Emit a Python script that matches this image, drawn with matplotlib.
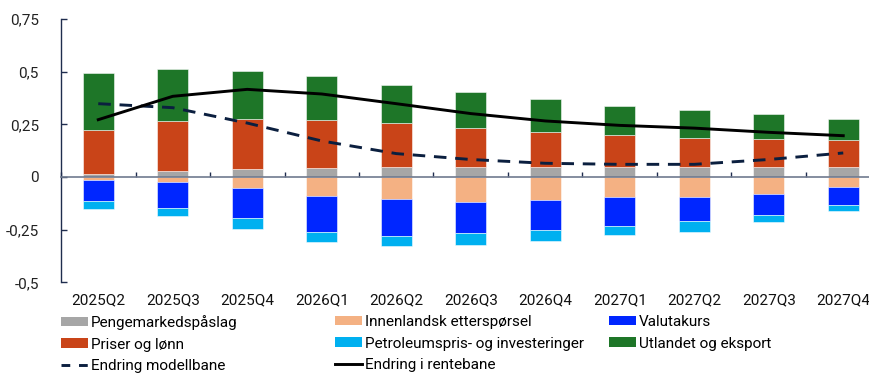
import matplotlib
matplotlib.use("Agg")
import matplotlib.pyplot as plt
import numpy as np
from matplotlib.patches import Patch
from matplotlib.lines import Line2D
from matplotlib.ticker import FuncFormatter

plt.rcParams['font.family'] = ['Roboto', 'DejaVu Sans']

quarters = ["2025Q2", "2025Q3", "2025Q4", "2026Q1", "2026Q2", "2026Q3",
            "2026Q4", "2027Q1", "2027Q2", "2027Q3", "2027Q4"]

# Contributions to the change in the policy rate path (percentage points)
pengemarked = [0.014, 0.027, 0.037, 0.043, 0.046, 0.049, 0.049, 0.049, 0.049, 0.049, 0.049]
priser_lonn = [0.211, 0.237, 0.240, 0.229, 0.209, 0.185, 0.166, 0.150, 0.138, 0.133, 0.128]
utlandet = [0.270, 0.250, 0.228, 0.207, 0.183, 0.168, 0.155, 0.136, 0.133, 0.117, 0.098]
innenlandsk = [-0.012, -0.025, -0.054, -0.088, -0.103, -0.117, -0.109, -0.096, -0.096, -0.079, -0.049]
valutakurs = [-0.103, -0.120, -0.140, -0.174, -0.175, -0.150, -0.144, -0.135, -0.114, -0.103, -0.084]
petroleum = [-0.035, -0.038, -0.051, -0.049, -0.051, -0.054, -0.053, -0.046, -0.049, -0.033, -0.028]

endring_modellbane = [0.348, 0.329, 0.256, 0.171, 0.111, 0.083, 0.065, 0.060, 0.060, 0.083, 0.114]
endring_rentebane = [0.272, 0.383, 0.416, 0.394, 0.348, 0.301, 0.266, 0.245, 0.232, 0.212, 0.196]

c_gray = "#a6a6a6"
c_peach = "#f4b183"
c_blue = "#0026ff"
c_cyan = "#00b0f0"
c_orange = "#c94418"
c_green = "#1e7628"
c_navy = "#0b1f3f"
axis_col = "#1f2d4e"

fig = plt.figure(figsize=(8.7, 3.73), dpi=100)
ax = fig.add_axes([61 / 870, 1 - 282.3 / 373, 1 - 61 / 870, (282.3 - 19) / 373])

x = np.arange(len(quarters))
w = 0.41
edge = dict(edgecolor=(1, 1, 1, 0.6), linewidth=0.6)

pos_bottom = np.zeros(len(x))
for vals, col in [(pengemarked, c_gray), (priser_lonn, c_orange), (utlandet, c_green)]:
    ax.bar(x, vals, w, bottom=pos_bottom, color=col, zorder=2, **edge)
    pos_bottom += np.array(vals)

neg_bottom = np.zeros(len(x))
for vals, col in [(innenlandsk, c_peach), (valutakurs, c_blue), (petroleum, c_cyan)]:
    ax.bar(x, vals, w, bottom=neg_bottom, color=col, zorder=2, **edge)
    neg_bottom += np.array(vals)

ax.plot(x, endring_modellbane, color=c_navy, lw=2.1, dashes=(4.3, 3.0), zorder=4)
ax.plot(x, endring_rentebane, color="black", lw=2.1, zorder=4)

ax.set_ylim(-0.5, 0.75)
ax.set_xlim(-0.5, (870 - 61) / 74.5 - 0.5)
ax.set_yticks([-0.5, -0.25, 0, 0.25, 0.5, 0.75])
ax.yaxis.set_major_formatter(FuncFormatter(lambda v, p: ("%g" % v).replace(".", ",")))
ax.tick_params(axis='y', direction='in', length=4, width=1, color=axis_col,
               labelsize=11, pad=16, labelcolor="#222222")
ax.set_xticks(x)
ax.set_xticklabels(quarters)
ax.tick_params(axis='x', length=0, labelsize=11, pad=8, labelcolor="#111111")

for s in ["top", "right", "bottom"]:
    ax.spines[s].set_visible(False)
ax.spines["left"].set_color(axis_col)
ax.spines["left"].set_linewidth(1)

# zero line with category separators
zero = ax.secondary_xaxis(0.4)
zero.set_xticks(np.arange(-0.5, len(quarters), 1.0))
zero.tick_params(direction='in', length=3.5, width=1, color=axis_col, labelbottom=False)
zero.spines["bottom"].set_color("#6f7a8f")
zero.spines["bottom"].set_linewidth(1.2)
zero.set_zorder(3)

def patch(c):
    return Patch(facecolor=c, edgecolor='none')

leg_kw = dict(loc="upper left", frameon=False, fontsize=11, handlelength=1.75,
              handleheight=0.6, handletextpad=0.2, labelspacing=0.5,
              borderaxespad=0, borderpad=0)
cols = [
    ([patch(c_gray), patch(c_orange),
      Line2D([], [], color=c_navy, lw=2.1, dashes=(3, 3))],
     ["Pengemarkedspåslag", "Priser og lønn", "Endring modellbane"], 61),
    ([patch(c_peach), patch(c_cyan), Line2D([], [], color="black", lw=2.1)],
     ["Innenlandsk etterspørsel", "Petroleumspris- og investeringer", "Endring i rentebane"], 335),
    ([patch(c_blue), patch(c_green)], ["Valutakurs", "Utlandet og eksport"], 609),
]
for handles, labels, xpx in cols:
    fig.legend(handles, labels, bbox_to_anchor=(xpx / 870, 1 - 315 / 373), **leg_kw)

fig.savefig("out.png", dpi=100)
